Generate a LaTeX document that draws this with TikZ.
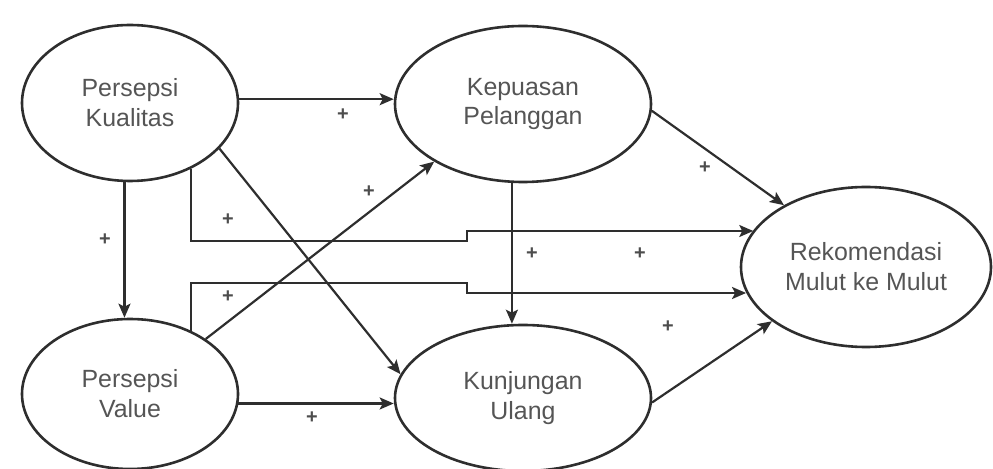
\documentclass[tikz,border=0pt]{standalone}
\usepackage{fontspec}
\setmainfont{Liberation Sans}
\usetikzlibrary{shapes.geometric,arrows.meta}
\definecolor{ink}{HTML}{2E2E2E}
\definecolor{label}{HTML}{555555}
\tikzset{
  construct/.style={ellipse, draw=ink, line width=2.6bp, inner sep=0pt,
    align=center, text=label, font=\fontsize{25}{30}\selectfont},
  arr/.style={draw=ink, line width=2.2bp,
    -{Stealth[length=14bp, width=12bp, inset=3bp]}},
  sign/.style={text=ink!85, inner sep=0pt, font=\bfseries\fontsize{20}{20}\selectfont}
}
\begin{document}
\begin{tikzpicture}[x=1bp, y=-1bp]
  \useasboundingbox (0,0) rectangle (993,469);

  % constructs
  \node[construct, minimum width=216bp, minimum height=156bp] (kq) at (130,103) {Persepsi\\Kualitas};
  \node[construct, minimum width=256bp, minimum height=156bp] (kp) at (523,104) {Kepuasan\\Pelanggan};
  \node[construct, minimum width=250bp, minimum height=160bp] (rk) at (866,267) {Rekomendasi\\Mulut ke Mulut};
  \node[construct, minimum width=216bp, minimum height=150bp] (pv) at (130,394) {Persepsi\\Value};
  \node[construct, minimum width=256bp, minimum height=146bp] (ku) at (523,398) {Kunjungan\\Ulang};

  % bends of the two stepped paths
  \coordinate (e1) at (467,241);
  \coordinate (e2) at (467,231);
  \coordinate (e3) at (467,283);
  \coordinate (e4) at (467,293);

  % paths
  \draw[arr] (kq.2) -- (kq.2 -| kp.west);
  \draw[arr] (kq.-94) -- (kq.-94 |- pv.north);
  \draw[arr] (kq.-27.1) -- (ku.169.4);
  \draw[arr] (kq.-47.3) |- (e1) -- (e2) -- (e2 -| rk.162.2);
  \draw[arr] (pv.36.7) -- (kp.213.3);
  \draw[arr] (pv.-5.9) -- (pv.-5.9 -| ku.west);
  \draw[arr] (pv.46.1) |- (e3) -- (e4) -- (e4 -| rk.192.4);
  \draw[arr] (kp.-98.1) -- (kp.-98.1 |- ku.north);
  \draw[arr] (kp.-3) -- (rk.143.6);
  \draw[arr] (ku.-2) -- (rk.210.6);

  % signs of the paths
  \node[sign] (s1) at (343,115) {+};
  \node[sign] (s2) at (105,240) {+};
  \node[sign] (s3) at (228,220) {+};
  \node[sign] (s4) at (369,192) {+};
  \node[sign] (s5) at (228,297) {+};
  \node[sign] (s6) at (532,254) {+};
  \node[sign] (s7) at (640,254) {+};
  \node[sign] (s8) at (705,168) {+};
  \node[sign] (s9) at (668,327) {+};
  \node[sign] (s10) at (312,418) {+};
\end{tikzpicture}
\end{document}
